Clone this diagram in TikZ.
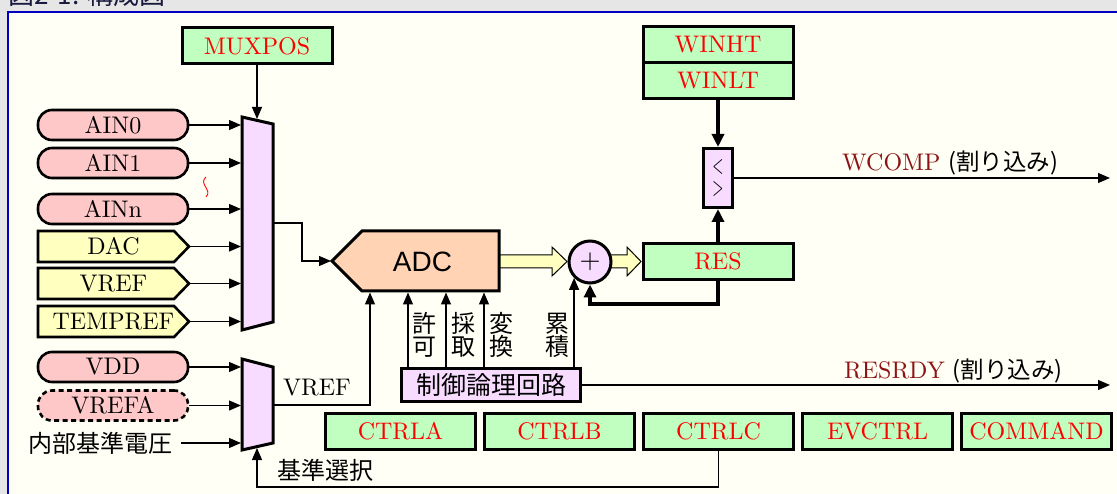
\documentclass[tikz,border=0pt]{standalone}
\usepackage{fontspec}
\setmainfont{lmroman10-regular.otf}
\newfontfamily\jpfont{Noto Sans CJK JP}
\newfontfamily\gothic{Liberation Sans}
\usetikzlibrary{arrows.meta,positioning}

\definecolor{bandgray}{HTML}{E6E6E6}
\definecolor{paper}{HTML}{FFFFF5}
\definecolor{frameblue}{HTML}{0000C0}
\definecolor{titlenavy}{HTML}{1A1A40}
\definecolor{regfill}{HTML}{C0FFC0}
\definecolor{pinfill}{HTML}{FFC8C8}
\definecolor{srcfill}{HTML}{FFFFC0}
\definecolor{logicfill}{HTML}{F8DCFF}
\definecolor{adcfill}{HTML}{FFD3B4}
\definecolor{intred}{HTML}{8C1414}

\tikzset{
  lat/.style={font=\fontsize{24}{27}\selectfont},
  jp/.style={font=\jpfont\fontsize{24}{23}\selectfont},
  reg/.style={draw, line width=3pt, fill=regfill, text=red, minimum width=150pt,
    minimum height=36pt, inner sep=0pt, lat},
  logic/.style={draw, line width=3pt, fill=logicfill, inner sep=0pt},
  pin/.style={draw, line width=2.6pt, fill=pinfill, rounded corners=14pt,
    minimum width=150pt, minimum height=30pt, inner sep=0pt, lat},
  src/.style={minimum width=152pt, minimum height=31pt, inner sep=0pt, lat},
  srcshape/.style={draw, line width=2.6pt, fill=srcfill},
  sig/.style={line width=1.2pt, -{Triangle[length=12pt,width=10pt]}},
  bus/.style={line width=3.5pt, -{Triangle[length=13pt,width=12pt]}},
  fat/.style={draw, line width=1pt, fill=srcfill},
}

\begin{document}
\begin{tikzpicture}[x=1pt,y=-1pt]
  \useasboundingbox (0,0) rectangle (1117,494);

  % frame and title
  \fill[bandgray] (0,0) rectangle (1117,494);
  \fill[paper] (7.8,12) rectangle (1117,494);
  \draw[frameblue, line width=2pt] (7.8,494) -- (7.8,12) -- (1117,12);
  \node[anchor=base west, inner sep=0pt, text=titlenavy,
    font=\jpfont\fontsize{26}{26}\selectfont] (title) at (8,4.5) {図2-1. 構成図};

  % input multiplexer
  \filldraw[fill=logicfill, line width=3pt] (242,117) -- (273,124) -- (273,322) -- (242,330) -- cycle;
  \coordinate (muxL) at (241,0);
  \coordinate (mux out) at (273,223);
  \coordinate (mux sel) at (257,119);

  \node[reg] (muxpos) at (257,46) {MUXPOS};
  \draw[sig] (muxpos.south) -- (mux sel);

  % analog inputs
  \node[pin] (ain0) at (113,125) {AIN0};
  \node[pin] (ain1) at (113,163) {AIN1};
  \node[pin] (ainn) at (113,209) {AINn};
  \draw[red, line width=0.9pt] (206,177) .. controls (198,184) and (213,190) .. (206,197);

  \filldraw[srcshape] (38,231) -- ++(136,0) -- ++(15,15.5) -- ++(-15,15.5) -- ++(-136,0) -- cycle;
  \node[src] (dac) at (113.5,246.5) {DAC};
  \filldraw[srcshape] (38,268) -- ++(136,0) -- ++(15,15.5) -- ++(-15,15.5) -- ++(-136,0) -- cycle;
  \node[src] (vref) at (113.5,283.5) {VREF};
  \filldraw[srcshape] (38,306) -- ++(136,0) -- ++(15,15.5) -- ++(-15,15.5) -- ++(-136,0) -- cycle;
  \node[src] (tempref) at (113.5,321.5) {TEMPREF};

  \draw[sig] (ain0.east) -- (ain0.east -| muxL);
  \draw[sig] (ain1.east) -- (ain1.east -| muxL);
  \draw[sig] (ainn.east) -- (ainn.east -| muxL);
  \draw[sig] (dac.east) -- (dac.east -| muxL);
  \draw[sig] (vref.east) -- (vref.east -| muxL);
  \draw[sig] (tempref.east) -- (tempref.east -| muxL);

  % ADC
  \filldraw[fill=adcfill, line width=3pt] (332,261) -- (362,231) -- (499,231) -- (499,291) -- (362,291) -- cycle;
  \node[minimum width=137pt, minimum height=60pt, inner sep=0pt, outer sep=1.5pt] (adc) at (430.5,261) {};
  \node[font=\gothic\fontsize{28}{28}\selectfont] (adc text) at (422.5,262) {ADC};
  \coordinate (adc tip) at (331,261);
  \draw[sig] (mux out) -- ++(29,0) |- (adc tip);

  % accumulator and result
  \filldraw[fat] (500,255) -- (552,255) -- (552,247) -- (567,261.5) -- (552,276) -- (552,268) -- (500,268) -- cycle;
  \filldraw[fat] (610,255) -- (627,255) -- (627,247) -- (641,261.5) -- (627,276) -- (627,268) -- (610,268) -- cycle;
  \node[logic, circle, minimum size=42pt, font=\fontsize{27}{27}\selectfont] (sum) at (590,262) {+};
  \node[reg] (res) at (718,261.5) {RES};

  % window comparator
  \node[reg] (winht) at (718,45) {WINHT};
  \node[reg, below=-3pt of winht] (winlt) {WINLT};
  \node[logic, minimum width=29pt, minimum height=59pt, align=center,
    font=\fontsize{26}{22}\selectfont] (cmp) at (718,178)
    {\scalebox{0.55}[1]{<}\\\scalebox{0.55}[1]{>}};
  \draw[bus] (winlt.south) -- (cmp.north);
  \draw[bus] (res.north) -- (cmp.south);
  \draw[bus] (res.south) -- ++(0,23) -| (sum.south);

  \coordinate (right end) at (1110,0);
  \draw[sig] (cmp.east) -- (cmp.east -| right end);
  \node[lat, anchor=base west, inner sep=0pt] (wcomp) at (842,171)
    {\textcolor{intred}{WCOMP} {\jpfont\fontsize{23.5}{24}\selectfont(割り込み)}};

  % control logic
  \node[logic, minimum width=179pt, minimum height=33pt, jp,
    font=\jpfont\fontsize{25}{25}\selectfont] (ctl) at (491,385) {制御論理回路};
  \coordinate (en) at (408,0);
  \coordinate (smp) at (446,0);
  \coordinate (cnv) at (484,0);
  \draw[sig] (ctl.north -| en) -- (en |- adc.south);
  \draw[sig] (ctl.north -| smp) -- (smp |- adc.south);
  \draw[sig] (ctl.north -| cnv) -- (cnv |- adc.south);
  \draw[sig] (ctl.north -| sum.225) -- (sum.225);
  \node[jp, align=center, inner sep=0pt] (en lbl) at (424,335) {許\\可};
  \node[jp, align=center, inner sep=0pt] (smp lbl) at (463,335) {採\\取};
  \node[jp, align=center, inner sep=0pt] (cnv lbl) at (501,335) {変\\換};
  \node[jp, align=center, inner sep=0pt] (acc lbl) at (557,335) {累\\積};

  \draw[sig] (ctl.east) -- (ctl.east -| right end);
  \node[lat, anchor=base west, inner sep=0pt] (resrdy) at (844,378)
    {\textcolor{intred}{RESRDY} {\jpfont\fontsize{23.5}{24}\selectfont(割り込み)}};

  % reference multiplexer
  \filldraw[fill=logicfill, line width=3pt] (242,359) -- (273,367) -- (273,443) -- (242,450) -- cycle;
  \coordinate (mux2 out) at (273,405);
  \coordinate (mux2 sel) at (257,448);
  \node[pin] (vdd) at (113,367) {VDD};
  \node[pin, dashed, dash pattern=on 5pt off 3.5pt] (vrefa) at (113,405.5) {VREFA};
  \node[jp, inner sep=0pt] (intref) at (100,443) {内部基準電圧};
  \draw[sig] (vdd.east) -- (vdd.east -| muxL);
  \draw[sig] (vrefa.east) -- (vrefa.east -| muxL);
  \draw[sig] ([xshift=9pt]intref.east) -- (intref.east -| muxL);

  \coordinate (adc ref) at (370,0);
  \draw[sig] (mux2 out) -| (adc ref |- adc.south);
  \node[lat, inner sep=0pt] (vref lbl) at (317,388) {VREF};

  % control registers
  \node[reg] (ctrla) at (400.5,431.5) {CTRLA};
  \node[reg, right=6pt of ctrla] (ctrlb) {CTRLB};
  \node[reg, right=6pt of ctrlb] (ctrlc) {CTRLC};
  \node[reg, right=6pt of ctrlc] (evctrl) {EVCTRL};
  \node[reg, right=6pt of evctrl] (command) {COMMAND};

  \coordinate (sel turn) at (257,487);
  \draw[sig] (ctrlc.south) |- (sel turn) -- (mux2 sel);
  \node[jp, inner sep=0pt] (sel lbl) at (325,470) {基準選択};
\end{tikzpicture}
\end{document}
